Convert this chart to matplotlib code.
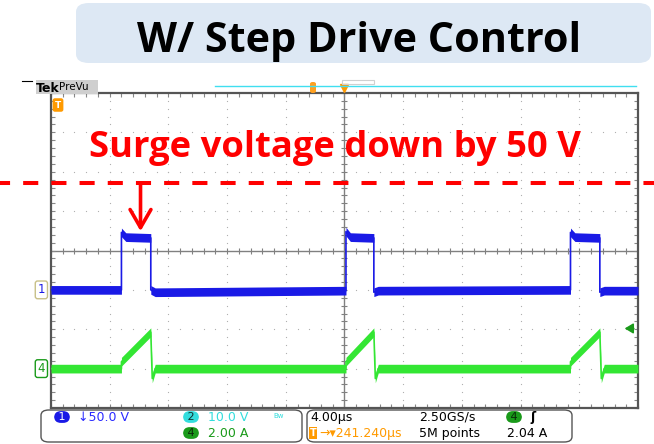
import matplotlib
matplotlib.use("Agg")
import numpy as np
import matplotlib.pyplot as plt
from matplotlib.patches import FancyBboxPatch, Rectangle
from matplotlib.lines import Line2D
import matplotlib.transforms as mtransforms

# scope settings
time_per_div = 4.0      # us
ch1_scale = 50.0        # V/div
ch1_pos = -1.0          # div
ch4_scale = 2.0         # A/div
ch4_pos = -3.0          # div

# CH1 (voltage) breakpoints, us / V
ch1_t = [-20, -15.2, -15.2, -14.9, -13.2, -13.2, -12.9, 0.1, 0.1, 0.4, 2.0, 2.0, 2.3,
         15.4, 15.4, 15.7, 17.4, 17.4, 17.7, 20]
ch1_v = [0, 0, 73, 67, 66, 0, -3, -1, 74, 67, 66, -3, -1,
         0, 73, 67, 66, -3, -1, -1]

# CH4 (current) breakpoints, us / A
ch4_t = [-20, -15.2, -15.2, -13.2, -13.2, -13.1, -12.9, 0.1, 0.1, 2.0, 2.0, 2.1, 2.3,
         15.4, 15.4, 17.4, 17.4, 17.5, 17.7, 20]
ch4_a = [0, 0, 0.35, 1.85, 1.85, -0.5, 0, 0, 0.35, 1.85, 1.85, -0.5, 0,
         0, 0.35, 1.85, 1.85, -0.5, 0, 0]

trigger_level = 2.04    # A
surge_ref_div = 1.71    # old surge level (div)
arrow_t = -13.9         # us
arrow_tip_div = 0.49

fig = plt.figure(figsize=(6.54, 4.44), dpi=100)
fig.patch.set_facecolor("white")

W, H = 654.0, 444.0
def fx(px):
    return px / W
def fy(py):
    return 1 - py / H

# scope screen
ax = fig.add_axes([fx(51), fy(408), fx(638) - fx(51), fy(93) - fy(408)])
ax.set_xlim(-5 * time_per_div, 5 * time_per_div)
ax.set_ylim(-4, 4)
ax.set_xticks(np.arange(-20, 20.1, 4))
ax.set_xticks(np.arange(-20, 20.1, 0.8), minor=True)
ax.set_yticks(np.arange(-4, 4.1, 1))
ax.set_yticks(np.arange(-4, 4.1, 0.2), minor=True)
ax.tick_params(which="both", direction="in", top=True, right=True,
               labelbottom=False, labelleft=False, color="#888888", length=3, width=0.8)
for s in ax.spines.values():
    s.set_color("#555555")
    s.set_linewidth(1.6)

# dotted graticule
for k in range(-4, 5):
    if k == 0:
        continue
    yy = np.arange(-4, 4.01, 0.2)
    ax.plot(np.full_like(yy, k * time_per_div), yy, ls="none", marker="s",
            ms=0.8, color="#b0b0b0", mew=0, zorder=1)
for k in range(-3, 4):
    if k == 0:
        continue
    xx = np.arange(-20, 20.01, 0.8)
    ax.plot(xx, np.full_like(xx, k), ls="none", marker="s", ms=0.8,
            color="#b0b0b0", mew=0, zorder=1)

# center crosshair with minor ticks
ax.axhline(0, color="#808080", lw=1.0, zorder=1)
ax.axvline(0, color="#808080", lw=1.0, zorder=1)
xx = np.arange(-20, 20.01, 0.8)
ax.plot(xx, np.zeros_like(xx), ls="none", marker="|", ms=5, mew=0.8, color="#808080", zorder=1)
yy = np.arange(-4, 4.01, 0.2)
ax.plot(np.zeros_like(yy), yy, ls="none", marker="_", ms=5, mew=0.8, color="#808080", zorder=1)

# traces
blue = "#1a1ae6"
green = "#33e633"
t1 = np.array(ch1_t)
y1 = ch1_pos + np.array(ch1_v) / ch1_scale
ax.fill_between(t1, y1 - 0.11, y1 + 0.11, color=blue, lw=0, zorder=3)
ax.plot(t1, y1, color=blue, lw=1.2, zorder=3)

t4 = np.array(ch4_t)
y4 = ch4_pos + np.array(ch4_a) / ch4_scale
ax.fill_between(t4, y4 - 0.11, y4 + 0.11, color=green, lw=0, zorder=3)
ax.plot(t4, y4, color=green, lw=1.2, zorder=3)

# trigger level arrow (right edge)
trig_div = ch4_pos + trigger_level / ch4_scale
ax.annotate("", xy=(18.9, trig_div), xytext=(19.9, trig_div),
            arrowprops=dict(arrowstyle="-|>,head_length=0.5,head_width=0.3",
                            color="#1a9a1a", lw=1.2), annotation_clip=False)

# channel ground markers (left)
ax.text(-20.4, ch1_pos, "1", color=blue, fontsize=8.5, ha="right", va="center",
        bbox=dict(boxstyle="round,pad=0.2", fc="white", ec="#c8c088", lw=1),
        clip_on=False)
ax.text(-20.4, ch4_pos, "4", color="#1a9a1a", fontsize=8.5, ha="right", va="center",
        bbox=dict(boxstyle="round,pad=0.2", fc="white", ec="#1a9a1a", lw=1),
        clip_on=False)

# red dashed reference line across the whole figure
red = "#ff0000"
tr = mtransforms.blended_transform_factory(fig.transFigure, ax.transData)
ax.plot([0, 1], [surge_ref_div, surge_ref_div], transform=tr, color=red, lw=2.9,
        ls=(1.25, (3.75, 3.25)), clip_on=False, zorder=5)

# arrow
ax.annotate("", xy=(arrow_t, arrow_tip_div), xytext=(arrow_t, surge_ref_div),
            arrowprops=dict(arrowstyle="->,head_length=1.3,head_width=0.75",
                            color=red, lw=2.6, shrinkA=0, shrinkB=0), zorder=6)

renderer = fig.canvas.get_renderer()
def fit(t, target):
    bb = t.get_window_extent(renderer=renderer)
    t.set_fontsize(t.get_fontsize() * target / bb.width)

surge = fig.text(fx(89), fy(157), "Surge voltage down by 50 V", color=red,
                 fontsize=27, fontweight="bold", family="Open Sans", va="baseline", zorder=7)
fit(surge, 492)

# title box
box = FancyBboxPatch((fx(76), fy(63)), fx(651) - fx(76), fy(3) - fy(63),
                     boxstyle="round,pad=0,rounding_size=0.02",
                     transform=fig.transFigure, fc="#dde8f4", ec="none")
fig.patches.append(box)
title = fig.text(fx(137), fy(52), "W/ Step Drive Control", color="black",
                 fontsize=30, fontweight="bold", family="Open Sans", va="baseline")
fit(title, 444)

# Tek PreVu header
fig.patches.append(Rectangle((fx(36), fy(94)), fx(98) - fx(36), fy(80) - fy(94),
                             transform=fig.transFigure, fc="#cfcfcf", ec="none"))
fig.text(fx(36), fy(88), "Tek", fontsize=9, fontweight="bold", va="center", family="DejaVu Sans")
fig.text(fx(59), fy(87), "PreVu", fontsize=7.5, va="center", family="DejaVu Sans")
fig.lines.append(Line2D([fx(22), fx(32)], [fy(81), fy(81)], transform=fig.transFigure,
                        color="black", lw=0.8))
# record indicator
fig.lines.append(Line2D([fx(215), fx(636)], [fy(86), fy(86)], transform=fig.transFigure,
                        color="#40dff0", lw=1.0))
fig.patches.append(FancyBboxPatch((fx(310), fy(93)), fx(6), fy(82) - fy(93),
                                  boxstyle="round,pad=0,rounding_size=0.004",
                                  transform=fig.transFigure, fc="#ffa020", ec="none"))
fig.patches.append(Rectangle((fx(342), fy(84)), fx(32), fy(80) - fy(84),
                             transform=fig.transFigure, fc="none", ec="#d0d0d0", lw=0.8))
ax.plot([0], [4.12], marker="v", ms=6, color="#ff9a00", clip_on=False, zorder=6)

# trigger position marker (top-left)
fig.text(fx(58), fy(105), "T", fontsize=6.5, color="white", fontweight="bold",
         ha="center", va="center",
         bbox=dict(boxstyle="round,pad=0.25", fc="#ff9a00", ec="none"))

# status bar
for x0, x1 in [(41, 302), (307, 572)]:
    fig.patches.append(FancyBboxPatch((fx(x0), fy(442)), fx(x1) - fx(x0), fy(410) - fy(442),
                                      boxstyle="round,pad=0,rounding_size=0.012",
                                      transform=fig.transFigure, fc="white",
                                      ec="#555555", lw=1.0))

def badge(x, y, s, fc, tc):
    fig.text(fx(x), fy(y), " " + s + " ", fontsize=8, color=tc, ha="center", va="center",
             bbox=dict(boxstyle="round,pad=0.08,rounding_size=0.6", fc=fc, ec="none"))

fs = 9
badge(62, 417, "1", "#1a1ae6", "white")
fig.text(fx(78), fy(417), "↓50.0 V", color="#2a2aff", fontsize=fs, va="center")
badge(191, 417, "2", "#33dddd", "#103030")
fig.text(fx(208), fy(417), "10.0 V", color="#33dddd", fontsize=fs, va="center")
fig.text(fx(273), fy(416), "Bw", color="#33dddd", fontsize=5, va="center")
badge(191, 433, "4", "#1a9a1a", "#0a2a0a")
fig.text(fx(208), fy(433), "2.00 A", color="#1a9a1a", fontsize=fs, va="center")

fig.text(fx(310), fy(417), "4.00µs", color="black", fontsize=fs, va="center")
fig.text(fx(419), fy(417), "2.50GS/s", color="black", fontsize=fs, va="center")
badge(514, 417, "4", "#1a9a1a", "#0a2a0a")
fig.text(fx(530), fy(417), "ʃ", color="black", fontsize=fs, va="center", fontweight="bold")
fig.text(fx(313), fy(433), "T", fontsize=7, color="white", fontweight="bold", ha="center",
         va="center", bbox=dict(boxstyle="square,pad=0.1", fc="#ff9a00", ec="none"))
fig.text(fx(319), fy(433), "→▾241.240µs", color="#ff9a00", fontsize=fs, va="center")
fig.text(fx(419), fy(433), "5M points", color="black", fontsize=fs, va="center")
fig.text(fx(507), fy(433), "2.04 A", color="black", fontsize=fs, va="center")

fig.savefig("out.png", dpi=100, facecolor="white")
